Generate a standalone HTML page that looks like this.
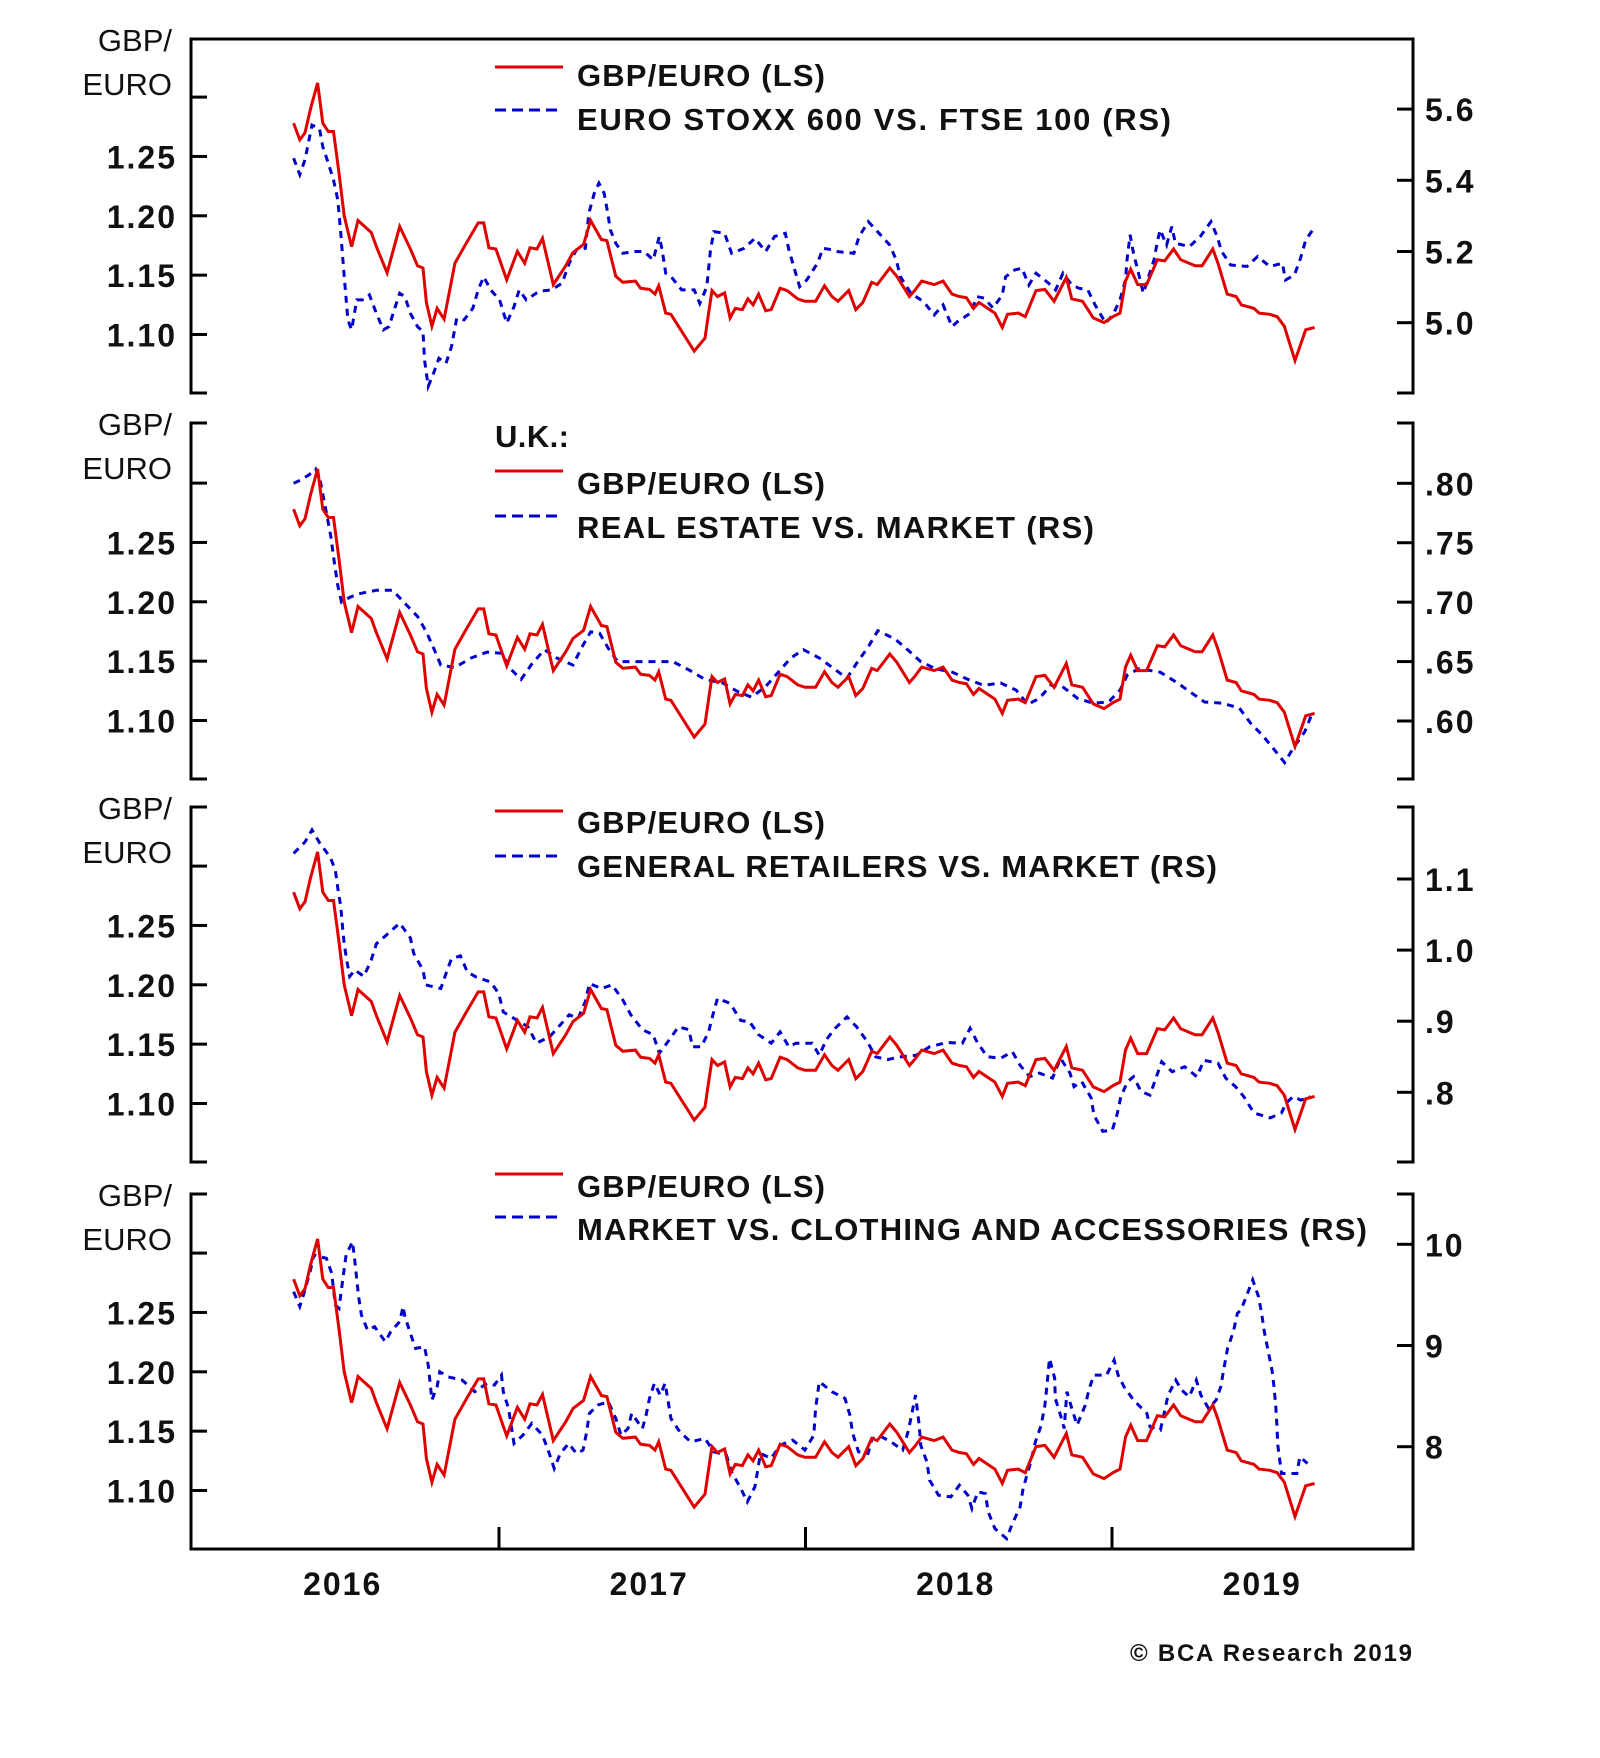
<!DOCTYPE html>
<html>
<head>
<meta charset="utf-8">
<style>
html,body{margin:0;padding:0;background:#fff;}
svg{display:block;}
text{font-family:"Liberation Sans",Arial,sans-serif;fill:#111;}
.tk{font-weight:bold;font-size:32px;letter-spacing:2px;}
.ax{font-size:31px;}
.lg{font-weight:bold;font-size:31px;}
</style>
</head>
<body>
<svg id="chart" width="1600" height="1758" viewBox="0 0 1600 1758" xmlns="http://www.w3.org/2000/svg">
<g id="frames" stroke="#000" stroke-width="3" fill="none"></g>
<g id="ticks" stroke="#000" stroke-width="3"></g>
<g id="series" fill="none" stroke-width="3" stroke-linejoin="miter"></g>
<g id="labels"></g>
<g id="legends">
  <line x1="495" y1="67" x2="563" y2="67" stroke="#e00000" stroke-width="3"/>
  <text class="lg" x="577" y="86" textLength="248" lengthAdjust="spacing">GBP/EURO (LS)</text>
  <line x1="495" y1="110" x2="563" y2="110" stroke="#0000cc" stroke-width="3" stroke-dasharray="11 6"/>
  <text class="lg" x="577" y="130" textLength="594" lengthAdjust="spacing">EURO STOXX 600 VS. FTSE 100 (RS)</text>

  <text class="lg" x="495" y="447" textLength="74" lengthAdjust="spacing">U.K.:</text>
  <line x1="495" y1="471" x2="563" y2="471" stroke="#e00000" stroke-width="3"/>
  <text class="lg" x="577" y="494" textLength="248" lengthAdjust="spacing">GBP/EURO (LS)</text>
  <line x1="495" y1="516" x2="563" y2="516" stroke="#0000cc" stroke-width="3" stroke-dasharray="11 6"/>
  <text class="lg" x="577" y="538" textLength="517" lengthAdjust="spacing">REAL ESTATE VS. MARKET (RS)</text>

  <line x1="495" y1="811" x2="563" y2="811" stroke="#e00000" stroke-width="3"/>
  <text class="lg" x="577" y="833" textLength="248" lengthAdjust="spacing">GBP/EURO (LS)</text>
  <line x1="495" y1="856" x2="563" y2="856" stroke="#0000cc" stroke-width="3" stroke-dasharray="11 6"/>
  <text class="lg" x="577" y="877" textLength="640" lengthAdjust="spacing">GENERAL RETAILERS VS. MARKET (RS)</text>

  <line x1="495" y1="1174" x2="563" y2="1174" stroke="#e00000" stroke-width="3"/>
  <text class="lg" x="577" y="1197" textLength="248" lengthAdjust="spacing">GBP/EURO (LS)</text>
  <line x1="495" y1="1217" x2="563" y2="1217" stroke="#0000cc" stroke-width="3" stroke-dasharray="11 6"/>
  <text class="lg" x="577" y="1240" textLength="790" lengthAdjust="spacing">MARKET VS. CLOTHING AND ACCESSORIES (RS)</text>
</g>
<text x="1130" y="1661" textLength="282" lengthAdjust="spacing" style="font-weight:bold;font-size:24px;">© BCA Research 2019</text>
</svg>
<script>
// ---- data (decimal years, values) ----
const redDates = [2016.330,2016.350,2016.367,2016.385,2016.408,2016.425,2016.443,2016.460,2016.478,2016.495,2016.519,2016.540,2016.583,2016.600,2016.635,2016.676,2016.711,2016.734,2016.752,2016.763,2016.781,2016.798,2016.821,2016.856,2016.891,2016.932,2016.950,2016.967,2016.990,2017.025,2017.060,2017.084,2017.101,2017.124,2017.142,2017.177,2017.218,2017.241,2017.276,2017.299,2017.334,2017.352,2017.381,2017.404,2017.445,2017.462,2017.491,2017.509,2017.521,2017.544,2017.561,2017.637,2017.672,2017.684,2017.695,2017.713,2017.736,2017.754,2017.771,2017.794,2017.812,2017.829,2017.847,2017.870,2017.888,2017.917,2017.940,2017.975,2017.998,2018.033,2018.062,2018.086,2018.106,2018.141,2018.164,2018.187,2018.216,2018.234,2018.275,2018.298,2018.339,2018.356,2018.379,2018.420,2018.449,2018.478,2018.502,2018.525,2018.548,2018.566,2018.618,2018.642,2018.659,2018.694,2018.717,2018.752,2018.781,2018.811,2018.851,2018.869,2018.904,2018.939,2018.974,2019.003,2019.026,2019.044,2019.061,2019.084,2019.113,2019.148,2019.172,2019.201,2019.224,2019.271,2019.294,2019.329,2019.346,2019.376,2019.405,2019.422,2019.463,2019.480,2019.515,2019.539,2019.562,2019.597,2019.632,2019.661];
const redValues = [1.278,1.264,1.270,1.290,1.312,1.278,1.271,1.271,1.236,1.200,1.174,1.196,1.186,1.174,1.152,1.191,1.172,1.158,1.156,1.127,1.107,1.122,1.113,1.160,1.176,1.194,1.194,1.173,1.172,1.146,1.170,1.160,1.173,1.172,1.181,1.142,1.158,1.169,1.176,1.196,1.180,1.179,1.149,1.144,1.145,1.139,1.138,1.134,1.141,1.118,1.117,1.086,1.097,1.118,1.137,1.132,1.135,1.114,1.122,1.121,1.130,1.125,1.134,1.120,1.121,1.139,1.137,1.130,1.128,1.128,1.141,1.132,1.128,1.137,1.121,1.127,1.144,1.142,1.156,1.149,1.132,1.137,1.145,1.142,1.145,1.134,1.132,1.131,1.122,1.127,1.118,1.106,1.117,1.118,1.115,1.137,1.138,1.128,1.148,1.130,1.128,1.114,1.110,1.115,1.118,1.145,1.155,1.142,1.142,1.163,1.162,1.172,1.163,1.158,1.158,1.172,1.160,1.134,1.132,1.125,1.122,1.118,1.117,1.115,1.107,1.078,1.104,1.106];

const stoxxDates = [2016.330,2016.350,2016.367,2016.390,2016.414,2016.425,2016.443,2016.460,2016.474,2016.484,2016.495,2016.507,2016.519,2016.536,2016.559,2016.577,2016.600,2016.623,2016.641,2016.658,2016.676,2016.693,2016.711,2016.734,2016.752,2016.757,2016.769,2016.787,2016.804,2016.827,2016.845,2016.862,2016.886,2016.915,2016.932,2016.950,2016.973,2017.002,2017.025,2017.049,2017.066,2017.089,2017.130,2017.171,2017.206,2017.229,2017.253,2017.282,2017.293,2017.311,2017.326,2017.343,2017.355,2017.363,2017.381,2017.404,2017.439,2017.474,2017.503,2017.523,2017.532,2017.544,2017.561,2017.596,2017.637,2017.655,2017.678,2017.690,2017.701,2017.736,2017.759,2017.800,2017.835,2017.870,2017.899,2017.934,2017.946,2017.963,2017.981,2018.004,2018.039,2018.057,2018.086,2018.100,2018.158,2018.175,2018.205,2018.240,2018.275,2018.296,2018.310,2018.344,2018.385,2018.420,2018.449,2018.478,2018.496,2018.537,2018.560,2018.583,2018.612,2018.642,2018.653,2018.682,2018.706,2018.729,2018.752,2018.793,2018.816,2018.840,2018.869,2018.892,2018.921,2018.945,2018.979,2019.003,2019.026,2019.044,2019.049,2019.059,2019.070,2019.084,2019.102,2019.119,2019.137,2019.148,2019.157,2019.178,2019.195,2019.207,2019.253,2019.288,2019.323,2019.343,2019.358,2019.387,2019.440,2019.475,2019.515,2019.556,2019.566,2019.595,2019.615,2019.632,2019.655];
const stoxxValues = [5.462,5.416,5.458,5.555,5.546,5.494,5.448,5.401,5.345,5.251,5.130,5.008,4.980,5.064,5.064,5.078,5.026,4.980,4.989,5.036,5.083,5.073,5.026,4.989,4.975,4.896,4.821,4.859,4.900,4.886,4.933,5.012,5.008,5.041,5.092,5.129,5.092,5.064,4.999,5.045,5.092,5.064,5.088,5.092,5.111,5.167,5.205,5.209,5.307,5.364,5.392,5.364,5.307,5.261,5.223,5.195,5.200,5.200,5.176,5.242,5.205,5.139,5.130,5.092,5.092,5.054,5.101,5.205,5.256,5.251,5.195,5.209,5.237,5.200,5.242,5.251,5.205,5.153,5.101,5.120,5.167,5.209,5.205,5.200,5.195,5.242,5.284,5.251,5.218,5.176,5.129,5.083,5.059,5.022,5.050,4.989,5.003,5.026,5.073,5.069,5.041,5.078,5.129,5.148,5.153,5.106,5.139,5.111,5.092,5.139,5.106,5.097,5.092,5.050,4.999,5.022,5.064,5.120,5.176,5.247,5.195,5.148,5.083,5.129,5.176,5.228,5.261,5.218,5.270,5.223,5.214,5.242,5.284,5.242,5.200,5.162,5.158,5.186,5.158,5.167,5.120,5.134,5.181,5.232,5.261];

const realEstateDates = [2016.330,2016.355,2016.379,2016.402,2016.416,2016.428,2016.439,2016.451,2016.463,2016.474,2016.486,2016.513,2016.542,2016.600,2016.653,2016.693,2016.734,2016.763,2016.789,2016.810,2016.856,2016.909,2016.961,2017.008,2017.037,2017.072,2017.107,2017.148,2017.189,2017.241,2017.270,2017.299,2017.328,2017.357,2017.387,2017.509,2017.567,2017.620,2017.672,2017.730,2017.777,2017.824,2017.870,2017.911,2017.952,2017.993,2018.045,2018.135,2018.173,2018.204,2018.236,2018.292,2018.333,2018.376,2018.424,2018.480,2018.530,2018.581,2018.637,2018.687,2018.725,2018.763,2018.800,2018.838,2018.888,2018.938,2018.989,2019.026,2019.051,2019.089,2019.158,2019.214,2019.252,2019.302,2019.359,2019.415,2019.453,2019.491,2019.526,2019.563,2019.591,2019.629,2019.651];
const realEstateValues = [0.800,0.803,0.807,0.812,0.803,0.787,0.772,0.756,0.733,0.714,0.700,0.704,0.707,0.710,0.710,0.699,0.688,0.675,0.660,0.647,0.645,0.653,0.658,0.657,0.644,0.635,0.648,0.660,0.653,0.647,0.662,0.675,0.674,0.661,0.650,0.650,0.650,0.643,0.635,0.632,0.625,0.620,0.629,0.641,0.653,0.660,0.653,0.636,0.651,0.662,0.676,0.669,0.660,0.650,0.644,0.641,0.635,0.630,0.632,0.626,0.614,0.619,0.630,0.629,0.619,0.615,0.616,0.626,0.639,0.644,0.641,0.632,0.625,0.616,0.615,0.611,0.598,0.588,0.577,0.565,0.577,0.591,0.605];

const retailDates = [2016.330,2016.367,2016.390,2016.416,2016.449,2016.466,2016.474,2016.484,2016.489,2016.495,2016.503,2016.513,2016.530,2016.559,2016.583,2016.600,2016.632,2016.676,2016.711,2016.722,2016.752,2016.761,2016.810,2016.827,2016.845,2016.874,2016.897,2016.926,2016.973,2016.999,2017.014,2017.060,2017.095,2017.122,2017.165,2017.194,2017.229,2017.258,2017.282,2017.295,2017.334,2017.369,2017.404,2017.430,2017.468,2017.503,2017.523,2017.556,2017.585,2017.620,2017.631,2017.660,2017.684,2017.698,2017.713,2017.754,2017.789,2017.818,2017.847,2017.888,2017.917,2017.946,2017.969,2018.022,2018.045,2018.068,2018.097,2018.135,2018.167,2018.202,2018.229,2018.267,2018.311,2018.361,2018.405,2018.461,2018.512,2018.537,2018.562,2018.593,2018.637,2018.675,2018.700,2018.731,2018.763,2018.806,2018.832,2018.863,2018.876,2018.901,2018.932,2018.941,2018.970,2019.001,2019.016,2019.029,2019.051,2019.070,2019.095,2019.124,2019.145,2019.162,2019.196,2019.237,2019.277,2019.300,2019.346,2019.371,2019.403,2019.430,2019.463,2019.516,2019.553,2019.568,2019.591,2019.616,2019.647];
const retailValues = [1.136,1.152,1.169,1.150,1.131,1.113,1.087,1.061,1.035,1.009,0.986,0.963,0.972,0.963,0.986,1.009,1.021,1.038,1.017,0.995,0.972,0.951,0.946,0.967,0.988,0.992,0.969,0.962,0.955,0.939,0.913,0.901,0.892,0.869,0.878,0.892,0.909,0.904,0.928,0.953,0.946,0.951,0.930,0.909,0.888,0.881,0.855,0.874,0.892,0.888,0.864,0.864,0.885,0.909,0.932,0.925,0.901,0.899,0.881,0.869,0.885,0.864,0.869,0.869,0.852,0.874,0.890,0.906,0.892,0.871,0.850,0.846,0.850,0.852,0.864,0.870,0.869,0.890,0.869,0.850,0.848,0.857,0.838,0.822,0.827,0.820,0.848,0.827,0.808,0.815,0.792,0.768,0.745,0.747,0.768,0.794,0.815,0.822,0.801,0.796,0.822,0.843,0.829,0.836,0.822,0.845,0.841,0.820,0.808,0.794,0.771,0.764,0.771,0.785,0.794,0.789,0.794];

const clothingDates = [2016.330,2016.350,2016.367,2016.385,2016.396,2016.414,2016.437,2016.454,2016.466,2016.478,2016.493,2016.501,2016.522,2016.530,2016.536,2016.542,2016.551,2016.571,2016.594,2016.629,2016.647,2016.676,2016.687,2016.693,2016.711,2016.728,2016.757,2016.769,2016.775,2016.781,2016.798,2016.807,2016.833,2016.880,2016.921,2016.961,2016.985,2017.008,2017.014,2017.031,2017.049,2017.078,2017.107,2017.142,2017.162,2017.180,2017.200,2017.227,2017.253,2017.274,2017.285,2017.295,2017.322,2017.357,2017.381,2017.398,2017.421,2017.433,2017.468,2017.480,2017.491,2017.507,2017.526,2017.542,2017.553,2017.561,2017.590,2017.625,2017.672,2017.701,2017.742,2017.759,2017.789,2017.810,2017.835,2017.845,2017.853,2017.888,2017.917,2017.958,2017.998,2018.027,2018.033,2018.045,2018.086,2018.129,2018.145,2018.154,2018.173,2018.204,2018.217,2018.248,2018.279,2018.317,2018.336,2018.348,2018.359,2018.371,2018.376,2018.396,2018.405,2018.434,2018.474,2018.502,2018.530,2018.543,2018.562,2018.587,2018.596,2018.618,2018.656,2018.675,2018.700,2018.710,2018.735,2018.750,2018.769,2018.781,2018.788,2018.796,2018.813,2018.815,2018.832,2018.844,2018.853,2018.869,2018.886,2018.913,2018.926,2018.941,2018.982,2019.007,2019.020,2019.039,2019.070,2019.114,2019.124,2019.158,2019.183,2019.208,2019.227,2019.252,2019.275,2019.290,2019.315,2019.340,2019.355,2019.365,2019.377,2019.396,2019.409,2019.421,2019.440,2019.459,2019.478,2019.488,2019.497,2019.509,2019.522,2019.528,2019.534,2019.538,2019.541,2019.553,2019.603,2019.613,2019.638];
const clothingValues = [9.532,9.385,9.549,9.746,9.895,9.878,9.862,9.713,9.400,9.367,9.713,9.895,10.026,9.829,9.648,9.483,9.302,9.153,9.186,9.038,9.137,9.236,9.385,9.285,9.120,8.971,8.988,8.807,8.642,8.461,8.593,8.741,8.691,8.658,8.543,8.626,8.609,8.708,8.543,8.378,8.032,8.114,8.230,8.114,7.950,7.785,7.933,8.032,7.933,7.966,8.131,8.329,8.411,8.444,8.279,8.114,8.180,8.329,8.180,8.312,8.477,8.626,8.510,8.626,8.428,8.279,8.147,8.048,8.081,7.950,7.917,7.752,7.587,7.455,7.604,7.785,7.933,7.884,8.015,8.065,7.966,8.114,8.378,8.642,8.543,8.477,8.312,8.131,7.950,7.933,8.081,8.098,8.048,7.966,8.164,8.345,8.510,8.213,8.015,7.851,7.669,7.521,7.504,7.620,7.521,7.389,7.554,7.537,7.356,7.191,7.092,7.240,7.405,7.587,7.851,8.048,8.213,8.411,8.609,8.873,8.675,8.477,8.312,8.180,8.543,8.378,8.213,8.411,8.576,8.708,8.708,8.856,8.708,8.593,8.461,8.329,8.197,8.164,8.510,8.658,8.559,8.493,8.658,8.510,8.378,8.461,8.593,8.774,8.972,9.137,9.318,9.351,9.500,9.648,9.483,9.318,9.137,8.955,8.757,8.609,8.411,8.213,8.015,7.735,7.735,7.900,7.834];

// ---- tick labels ----
const leftTicks = [1.10,1.15,1.20,1.25,1.30];
const leftTickLabels = ["1.10","1.15","1.20","1.25",""];
const p1RightTicks = [5.0,5.2,5.4,5.6];
const p1RightLabels = ["5.0","5.2","5.4","5.6"];
const p2RightTicks = [0.60,0.65,0.70,0.75,0.80];
const p2RightLabels = [".60",".65",".70",".75",".80"];
const p3RightTicks = [0.8,0.9,1.0,1.1];
const p3RightLabels = [".8",".9","1.0","1.1"];
const p4RightTicks = [8,9,10];
const p4RightLabels = ["8","9","10"];
const yearTicks = [2017,2018,2019];
const yearLabels = ["2016","2017","2018","2019"];
const yearLabelPos = [2016,2017,2018,2019];

// ---- geometry ----
const NS = "http://www.w3.org/2000/svg";
const L = 191, R = 1413;
const bottoms = [393, 779, 1162, 1549];
const tops = [39, 423, 807, 1194];
function xScale(d){ return 192.5 + (d - 2016) * 306.5; }
function leftY(p, v){ return bottoms[p] - 58.5 - (v - 1.10) * 1187; }
const rightScales = [
  v => bottoms[0] - 70.3 - (v - 5.0) * 356,
  v => bottoms[1] - 58 - (v - 0.60) * 1188.5,
  v => bottoms[2] - 69.7 - (v - 0.8) * 711,
  v => bottoms[3] - 102.3 - (v - 8) * 101.2
];

const gF = document.getElementById('frames');
const gT = document.getElementById('ticks');
const gS = document.getElementById('series');
const gL = document.getElementById('labels');

function mk(tag, attrs, parent){
  const e = document.createElementNS(NS, tag);
  for (const k in attrs) e.setAttribute(k, attrs[k]);
  parent.appendChild(e);
  return e;
}

for (let p = 0; p < 4; p++) {
  const t = tops[p], b = bottoms[p];
  const lv = mk('line', {x1:L, y1:t, x2:L, y2:b}, gF);
  
  
  const rv = mk('line', {x1:R, y1:t, x2:R, y2:b}, gF);
  
  
  if (p === 0) {
    const tl = mk('line', {x1:L-1.5, y1:t, x2:R+1.5, y2:t}, gF);
    
    
  } else {
    const a = mk('line', {x1:L-1.5, y1:t, x2:L+16, y2:t}, gF);
    
    
    const c = mk('line', {x1:R-16, y1:t, x2:R+1.5, y2:t}, gF);
    
    
  }
  if (p === 3) {
    const bl = mk('line', {x1:L-1.5, y1:b, x2:R+1.5, y2:b}, gF);
    
    
  } else {
    const a = mk('line', {x1:L-1.5, y1:b, x2:L+16, y2:b}, gF);
    
    
    const c = mk('line', {x1:R-16, y1:b, x2:R+1.5, y2:b}, gF);
    
    
  }
  leftTicks.forEach((v, i) => {
    const y = leftY(p, v);
    const tk = mk('line', {x1:L, y1:y, x2:L+16, y2:y}, gT);
    
    
    if (leftTickLabels[i]) {
      const tx = mk('text', {x:177, y:y+12, 'text-anchor':'end', class:'tk'}, gL);
      
      
      tx.textContent = leftTickLabels[i];
    }
  });
  const g1 = mk('text', {x:172, y:t+12, 'text-anchor':'end', class:'ax'}, gL);
  
  
  g1.textContent = 'GBP/';
  const g2 = mk('text', {x:172, y:t+56, 'text-anchor':'end', class:'ax'}, gL);
  
  
  g2.textContent = 'EURO';
}

const rTicks = [p1RightTicks, p2RightTicks, p3RightTicks, p4RightTicks];
const rLabels = [p1RightLabels, p2RightLabels, p3RightLabels, p4RightLabels];
for (let p = 0; p < 4; p++) {
  rTicks[p].forEach((v, i) => {
    const y = rightScales[p](v);
    const tk = mk('line', {x1:R-16, y1:y, x2:R, y2:y}, gT);
    
    
    const tx = mk('text', {x:1425, y:y+12, class:'tk'}, gL);
    
    
    tx.textContent = rLabels[p][i];
  });
}

yearTicks.forEach(yr => {
  const x = xScale(yr);
  const tk = mk('line', {x1:x, y1:bottoms[3], x2:x, y2:bottoms[3]-22}, gT);
  
  
});
yearLabelPos.forEach((yr, i) => {
  const tx = mk('text', {x:xScale(yr + 0.49), y:1595, 'text-anchor':'middle', class:'tk'}, gL);
  
  
  tx.textContent = yearLabels[i];
});

function pts(dates, vals, yf){
  return dates.map((d, i) => xScale(d).toFixed(1) + ',' + yf(vals[i]).toFixed(1)).join(' ');
}

const blueSets = [
  [stoxxDates, stoxxValues, 'euro-stoxx-vs-ftse-line'],
  [realEstateDates, realEstateValues, 'real-estate-vs-market-line'],
  [retailDates, retailValues, 'general-retailers-vs-market-line'],
  [clothingDates, clothingValues, 'market-vs-clothing-line']
];
for (let p = 0; p < 4; p++) {
  const bl = mk('polyline', {points: pts(blueSets[p][0], blueSets[p][1], rightScales[p]), stroke:'#0000cc', 'stroke-dasharray':'7 6'}, gS);
  
  
  const rl = mk('polyline', {points: pts(redDates, redValues, v => leftY(p, v)), stroke:'#e00000'}, gS);
  
  
}
</script>
</body>
</html>
